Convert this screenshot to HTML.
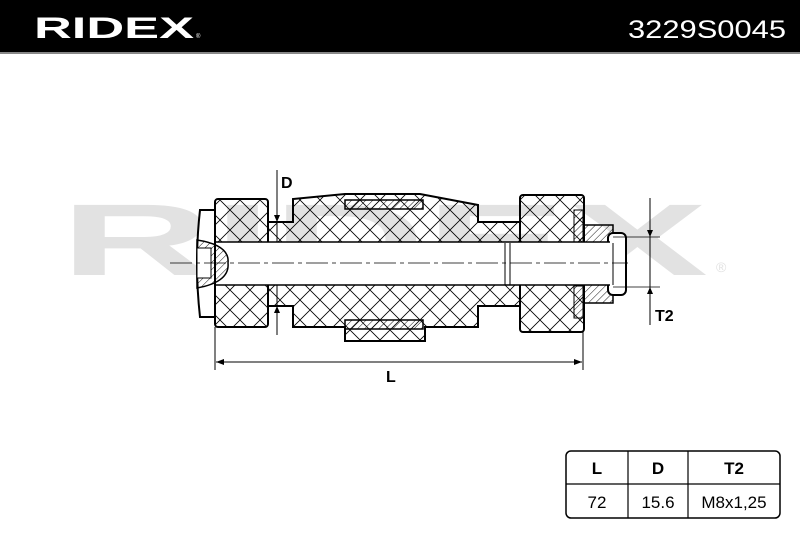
<!DOCTYPE html>
<html><head><style>
html,body{margin:0;padding:0;background:#fff;}
svg{display:block;}
text{font-family:"Liberation Sans",sans-serif;}
</style></head><body>
<svg width="800" height="533" viewBox="0 0 800 533" xmlns="http://www.w3.org/2000/svg">
<defs>
<pattern id="xh" width="20" height="20" patternUnits="userSpaceOnUse">
<path d="M0 0L20 20M20 0L0 20" stroke="#000" stroke-width="0.8"/>
</pattern>
<pattern id="hh" width="5" height="5" patternUnits="userSpaceOnUse" patternTransform="rotate(45)">
<line x1="0" y1="0" x2="0" y2="5" stroke="#000" stroke-width="0.9"/>
</pattern>
</defs>
<rect x="0" y="0" width="800" height="52" fill="#000"/>
<rect x="0" y="52" width="800" height="2" fill="#888"/>
<text x="34" y="38" fill="#fff" font-size="30" font-weight="bold" textLength="160" lengthAdjust="spacingAndGlyphs">RIDEX</text>
<text x="196" y="38" fill="#fff" font-size="6">®</text>
<text x="628" y="38" fill="#fff" font-size="25" textLength="158" lengthAdjust="spacingAndGlyphs">3229S0045</text>

<text x="60" y="275" fill="#e2e2e2" font-size="102" font-weight="bold" textLength="648" lengthAdjust="spacingAndGlyphs">RIDEX</text>
<text x="716" y="272" fill="#e2e2e2" font-size="14">®</text>

<g stroke="#000" fill="none">
<line x1="277" y1="170" x2="277" y2="335" stroke-width="1"/>
<path d="M293 199 L293 222 L268 222 L268 306 L293 306 L293 327 L345 327 L345 341 L425 341 L425 327 L478 327 L478 306 L520 306 L520 222 L478 222 L478 205 L420 194 L345 194 Z" fill="url(#xh)" stroke-width="2"/>
<rect x="215" y="199" width="53" height="128" rx="3" fill="url(#xh)" stroke-width="2"/>
<rect x="520" y="195" width="64" height="137" rx="3" fill="url(#xh)" stroke-width="2"/>
<rect x="584" y="225" width="29" height="78" fill="url(#hh)" stroke-width="1.5"/>
<rect x="608" y="233" width="18" height="62" rx="5" fill="#fff" stroke-width="2"/>
<rect x="345" y="200" width="78" height="9" fill="url(#hh)" stroke-width="1.5"/>
<rect x="345" y="320" width="78" height="9" fill="url(#hh)" stroke-width="1.5"/>
<rect x="574" y="210" width="9" height="32" fill="url(#hh)" stroke-width="1"/>
<rect x="574" y="286" width="9" height="32" fill="url(#hh)" stroke-width="1"/>
<rect x="216" y="242" width="394" height="43" fill="#fff" stroke="none"/>
<line x1="216" y1="242" x2="610" y2="242" stroke-width="1.5"/>
<line x1="216" y1="285" x2="610" y2="285" stroke-width="1.5"/>
<path d="M505 243 L505 285 M510 243 L510 285 M613 243 L613 285" stroke-width="1"/>
<path d="M215 210 L200 210 Q194 263 200 317 L215 317 Z" fill="#fff" stroke-width="2"/>
<path d="M197 240 Q230 245 228 263 Q230 282 197 288 Z" fill="url(#hh)" stroke-width="1.5"/>
<rect x="197" y="248" width="14" height="30" fill="#fff" stroke-width="1"/>
<line x1="170" y1="263" x2="628" y2="263" stroke-width="0.8" stroke-dasharray="22 4 4 4"/>
<line x1="650" y1="198" x2="650" y2="325" stroke-width="1"/>
<line x1="613" y1="237" x2="660" y2="237" stroke-width="0.8"/>
<line x1="613" y1="287" x2="660" y2="287" stroke-width="0.8"/>
<line x1="215" y1="327" x2="215" y2="370" stroke-width="1"/>
<line x1="583" y1="332" x2="583" y2="370" stroke-width="1"/>
<line x1="216" y1="362" x2="582" y2="362" stroke-width="1"/>
</g>
<g fill="#000">
<path d="M277 222 l-3 -7 h6z M277 306 l-3 7 h6z"/>
<path d="M650 237 l-3 -7 h6z M650 287 l-3 7 h6z"/>
<path d="M216 362 l8 -3 v6z M582 362 l-8 -3 v6z"/>
</g>
<text x="281" y="188" font-size="16" font-weight="bold">D</text>
<text x="655" y="321" font-size="16" font-weight="bold">T2</text>
<text x="386" y="382" font-size="16" font-weight="bold">L</text>

<rect x="566" y="451" width="214" height="67" rx="5" fill="none" stroke="#000" stroke-width="1.5"/>
<line x1="566" y1="484" x2="780" y2="484" stroke="#000" stroke-width="1.2"/>
<line x1="628" y1="451" x2="628" y2="518" stroke="#000" stroke-width="1.2"/>
<line x1="688" y1="451" x2="688" y2="518" stroke="#000" stroke-width="1.2"/>
<g font-size="17" text-anchor="middle">
<text x="597" y="474" font-weight="bold">L</text>
<text x="658" y="474" font-weight="bold">D</text>
<text x="734" y="474" font-weight="bold">T2</text>
<text x="597" y="508">72</text>
<text x="658" y="508">15.6</text>
<text x="734" y="508">M8x1,25</text>
</g>
</svg>
</body></html>
